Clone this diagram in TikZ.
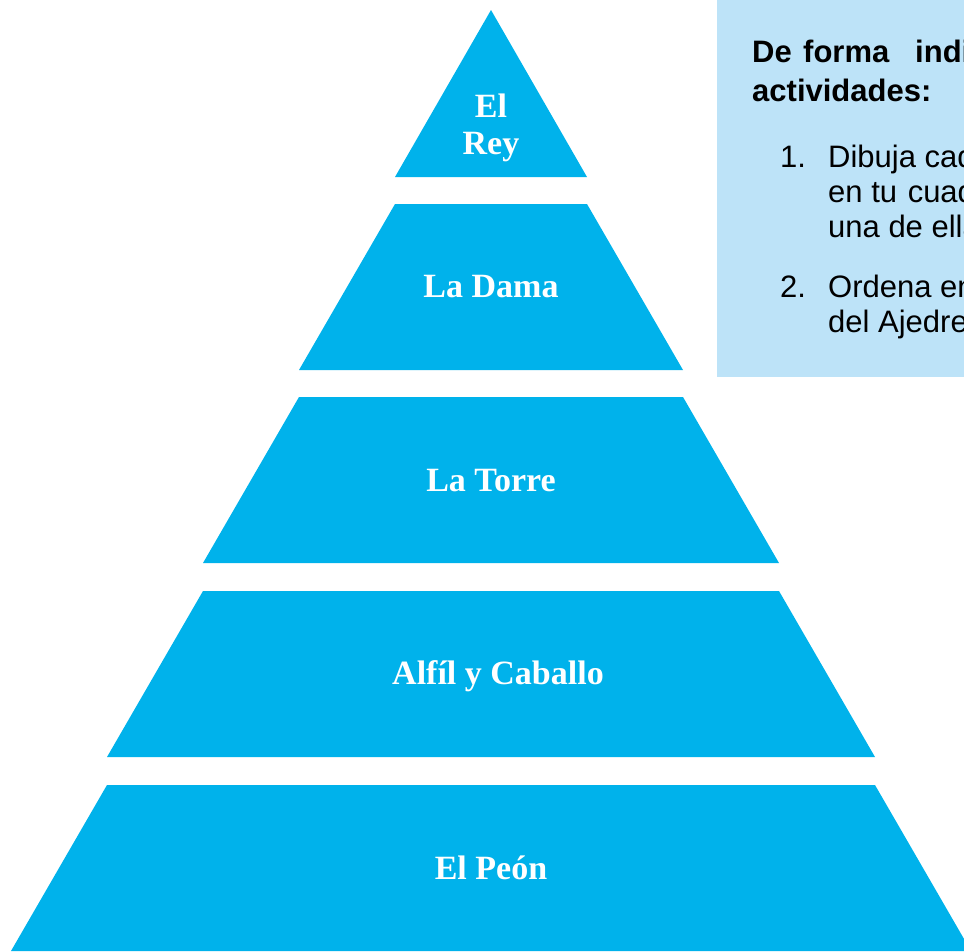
\documentclass[tikz,border=0pt]{standalone}
\usepackage{fontspec}
\setmainfont{Liberation Serif}
\newfontfamily\arialf{Liberation Sans}
\definecolor{pyr}{RGB}{0,178,235}
\definecolor{boxc}{RGB}{189,227,248}
\begin{document}
\begin{tikzpicture}[x=1pt,y=-1pt,
 level/.style={fill=pyr},
 lbl/.style={text=white,font=\fontsize{34}{37}\selectfont\bfseries,anchor=base,inner sep=0pt},
 hd/.style={font=\arialf\bfseries\fontsize{31}{33}\selectfont,anchor=base west,inner sep=0pt},
 itm/.style={font=\arialf\fontsize{31}{33}\selectfont,anchor=base west,inner sep=0pt}]
\useasboundingbox (0,0) rectangle (964,951);
\clip (0,0) rectangle (964,951);
% pyramid levels
\fill[level] (491,10) -- (587,177) -- (395,177) -- cycle;
\fill[level] (395,204) -- (587,204) -- (683,370) -- (299,370) -- cycle;
\fill[level] (299,397) -- (683,397) -- (779,563) -- (203,563) -- cycle;
\fill[level] (203,591) -- (779,591) -- (875,757) -- (107,757) -- cycle;
\fill[level] (107,785) -- (875,785) -- (971,951) -- (11,951) -- cycle;
% labels
\node[lbl] (rey1) at (491,117) {El};
\node[lbl] (rey2) at (491,154) {Rey};
\node[lbl] (dama) at (491,297) {La Dama};
\node[lbl] (torre) at (491,491) {La Torre};
\node[lbl] (alfil) at (498,684) {Alfíl y Caballo};
\node[lbl] (peon) at (491,879) {El Peón};
% instruction box
\fill[boxc] (717,0) rectangle (964,377);
\node[hd] (h1) at (752,62) {De};
\node[hd] (h2) at (803,62) {forma};
\node[hd] (h3) at (915,62) {individual,};
\node[hd] (h4) at (752,101) {actividades:};
\node[itm] (n1) at (780,167) {1.};
\node[itm] (i1a) at (828,167) {Dibuja cada};
\node[itm] (i1b) at (828,202) {en tu\hspace{2pt} cuaderno};
\node[itm] (i1c) at (828,237) {una de ellas};
\node[itm] (n2) at (780,297) {2.};
\node[itm] (i2a) at (828,297) {Ordena en};
\node[itm] (i2b) at (828,332) {del Ajedrez};
\end{tikzpicture}
\end{document}
